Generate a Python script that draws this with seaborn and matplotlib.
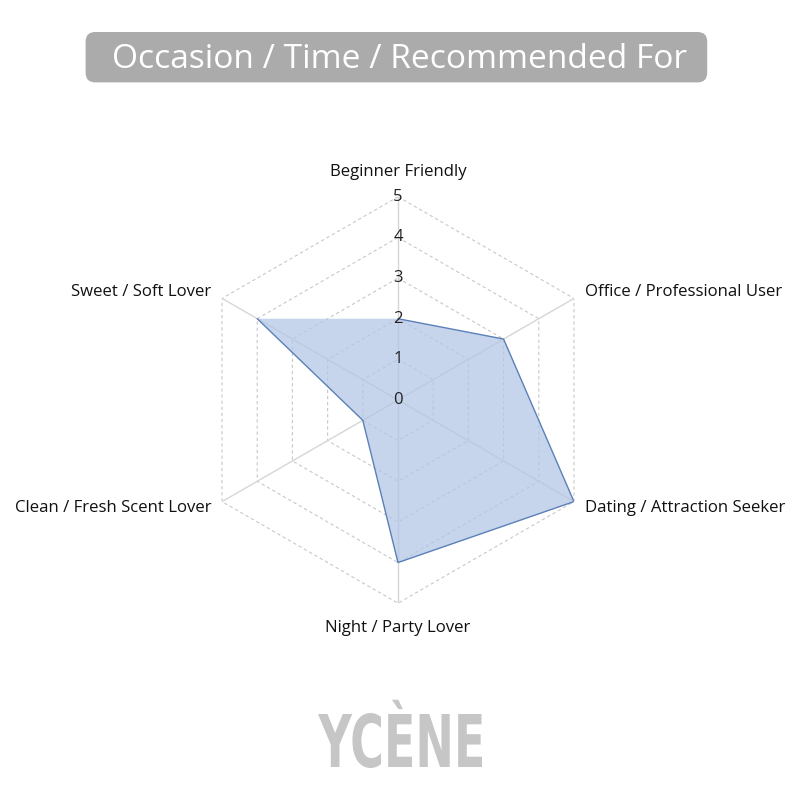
import numpy as np
import pandas as pd
import seaborn as sns
import matplotlib
matplotlib.use("Agg")
import matplotlib.pyplot as plt
from matplotlib.patches import FancyBboxPatch, PathPatch
from matplotlib.textpath import TextPath
from matplotlib.font_manager import FontProperties
from matplotlib.transforms import Affine2D

categories = ["Beginner Friendly", "Office / Professional User", "Dating / Attraction Seeker",
              "Night / Party Lover", "Clean / Fresh Scent Lover", "Sweet / Soft Lover"]
values = [2, 3, 5, 4, 1, 4]
ticks = [0, 1, 2, 3, 4, 5]
title = "Occasion / Time / Recommended For"
brand = "YCÈNE"

sns.set_theme(style="white")
plt.rcParams['font.family'] = ['Open Sans', 'DejaVu Sans']

fig = plt.figure(figsize=(8, 8), dpi=100)
fig.patch.set_facecolor("white")

n = len(categories)
angles = np.linspace(0, 2 * np.pi, n, endpoint=False)

ax = fig.add_axes([0.4975 - 0.254, 0.5 - 0.254, 0.508, 0.508], projection="polar")
ax.set_theta_offset(np.pi / 2)
ax.set_theta_direction(-1)
ax.set_ylim(0, 5)
ax.grid(False)
ax.spines["polar"].set_visible(False)
ax.set_xticks([])
ax.set_yticks([])
ax.set_facecolor("none")

# hexagonal grid rings
ring_ang = np.append(angles, angles[0])
for t in ticks[1:]:
    ax.plot(ring_ang, [t] * (n + 1), color="#c8c8c8", lw=0.8, ls=(0, (3, 2.5)), zorder=1)
# spokes
for a in angles:
    ax.plot([a, a], [0, 5], color="#d6d6d6", lw=1.0, zorder=1)

# data polygon
df = pd.DataFrame({"angle": np.append(angles, angles[0]), "value": values + [values[0]]})
ax.fill(df["angle"], df["value"], color="#b3c7e6", alpha=0.75, zorder=2, lw=0)
sns.lineplot(data=df, x="angle", y="value", sort=False, ax=ax, color="#5b80b8", lw=1.0, zorder=3)
ax.set_xlabel("")
ax.set_ylabel("")

# radial tick labels
for t in ticks:
    ax.text(0, t, str(t), ha="center", va="center", fontsize=12, color="#222222", zorder=4)

# category labels
lab_r = 5.3
fs = 12.1
for a, c in zip(angles, categories):
    deg = np.degrees(a) % 360
    if deg < 1 or abs(deg - 180) < 1:
        ax.text(a, 5.6, c, ha="center", va="center", fontsize=fs, color="#111111")
    elif deg < 180:
        ax.text(a, lab_r, c, ha="left", va="center", fontsize=fs, color="#111111")
    else:
        ax.text(a, lab_r, c, ha="right", va="center", fontsize=fs, color="#111111")

# title banner
box = FancyBboxPatch((0.107, 0.897), 0.777, 0.063, boxstyle="round,pad=0,rounding_size=0.012",
                     transform=fig.transFigure, facecolor="#ababab", edgecolor="none")
fig.patches.append(box)
fig.text(0.4995, 0.925, title, ha="center", va="center", fontsize=24.1, color="white")

# brand logo, scaled to a condensed bold look
fp = FontProperties(family="DejaVu Sans", weight="bold")
ref = TextPath((0, 0), "YCENE", size=100, prop=fp)
ext = ref.get_extents()
tp = TextPath((0, 0), brand, size=100, prop=fp)
sx = 164 / ext.width
sy = 55 / ext.height
tr = Affine2D().translate(-ext.x0, 0).scale(sx, sy).translate(318, 33)
fig.add_artist(PathPatch(tp, transform=tr, facecolor="#c6c6c6", edgecolor="none"))

fig.savefig("out.png", dpi=100)
